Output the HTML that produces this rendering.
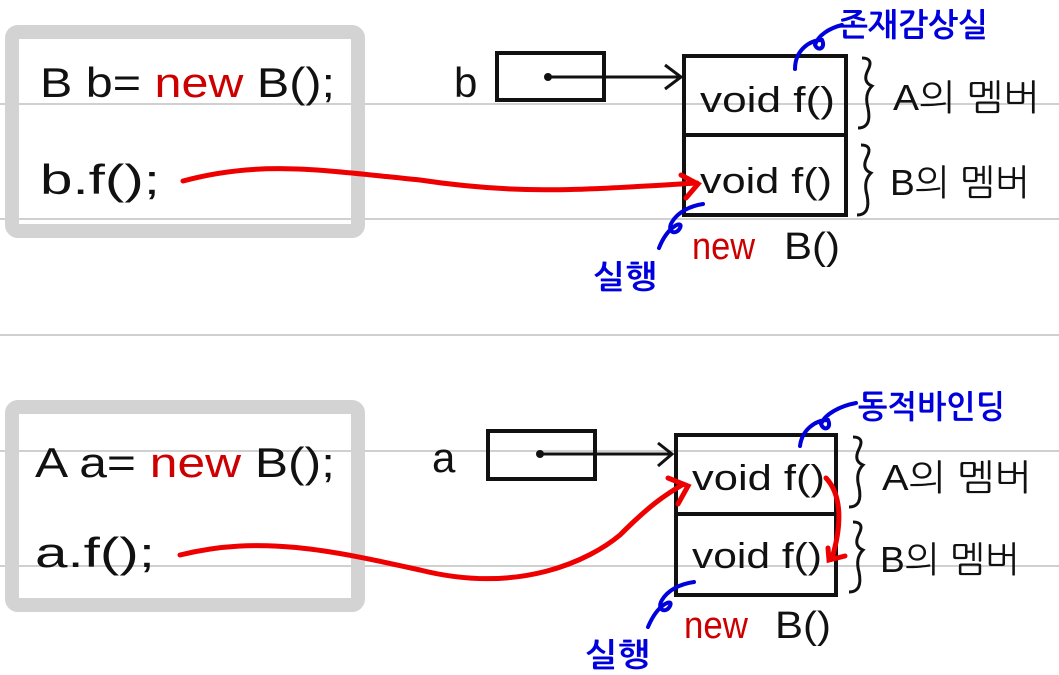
<!DOCTYPE html>
<html><head><meta charset="utf-8"><style>
html,body{margin:0;padding:0;background:#fff}
svg{display:block}
text{font-family:"Liberation Sans","NanumGothic","Noto Sans CJK KR",sans-serif}
</style></head><body>
<svg width="1059" height="675" viewBox="0 0 1059 675" xmlns="http://www.w3.org/2000/svg">
<g stroke="#d0d0d0" stroke-width="2">
<line x1="0" y1="104" x2="1059" y2="104"/><line x1="0" y1="219" x2="1059" y2="219"/>
<line x1="0" y1="335" x2="1059" y2="335"/><line x1="0" y1="451" x2="1059" y2="451"/>
<line x1="0" y1="566" x2="1059" y2="566"/>
</g>
<rect x="12" y="32" width="346" height="199" rx="6" fill="none" stroke="#d3d3d3" stroke-width="14"/>
<rect x="12" y="407" width="346" height="198" rx="6" fill="none" stroke="#d3d3d3" stroke-width="14"/>
<g font-size="42" fill="#111">
<text x="40" y="97" textLength="295" lengthAdjust="spacingAndGlyphs">B b= <tspan fill="#c00">new</tspan> B();</text>
<text x="40" y="194" textLength="120" lengthAdjust="spacingAndGlyphs">b.f();</text>
<text x="454" y="97">b</text>
<text x="35" y="477" textLength="300" lengthAdjust="spacingAndGlyphs">A a= <tspan fill="#c00">new</tspan> B();</text>
<text x="35" y="567" textLength="120" lengthAdjust="spacingAndGlyphs">a.f();</text>
<text x="432" y="472">a</text>
</g>
<g fill="none" stroke="#111" stroke-width="4">
<rect x="497" y="53" width="107" height="47"/>
<rect x="684" y="56" width="162" height="159"/><line x1="684" y1="135" x2="846" y2="135"/>
<line x1="548" y1="77" x2="680" y2="77" stroke-width="3"/><path d="M665 65 L681 77 L665 89" stroke-width="3"/>
<rect x="488" y="431" width="107" height="48"/>
<rect x="676" y="435" width="160" height="160"/><line x1="676" y1="514" x2="836" y2="514"/>
<line x1="540" y1="454" x2="671" y2="454" stroke-width="3"/><path d="M658 443 L672 454 L658 466" stroke-width="3"/>
<path d="M862 58 q12 0 6 12 q-6 12 4 16 q-8 8 -4 22 q4 20 -10 20" stroke-width="3"/>
<path d="M861 145 q12 0 6 12 q-6 12 4 16 q-8 8 -4 22 q4 20 -10 20" stroke-width="3"/>
<path d="M853 437 q12 0 6 12 q-6 12 4 16 q-8 8 -4 22 q4 20 -10 20" stroke-width="3"/>
<path d="M853 522 q12 0 6 12 q-6 12 4 16 q-8 8 -4 22 q4 20 -10 20" stroke-width="3"/>
</g>
<circle cx="548" cy="77" r="4" fill="#111"/><circle cx="540" cy="454" r="4" fill="#111"/>
<g font-size="36" fill="#111">
<text x="700" y="112" textLength="135" lengthAdjust="spacingAndGlyphs">void f()</text>
<text x="700" y="193" textLength="132" lengthAdjust="spacingAndGlyphs">void f()</text>
<text x="692" y="490" textLength="133" lengthAdjust="spacingAndGlyphs">void f()</text>
<text x="692" y="568" textLength="130" lengthAdjust="spacingAndGlyphs">void f()</text>
<text x="893" y="110" textLength="147" lengthAdjust="spacingAndGlyphs">A의 멤버</text>
<text x="890" y="195" textLength="140" lengthAdjust="spacingAndGlyphs">B의 멤버</text>
<text x="882" y="490" textLength="150" lengthAdjust="spacingAndGlyphs">A의 멤버</text>
<text x="880" y="572" textLength="140" lengthAdjust="spacingAndGlyphs">B의 멤버</text>
</g>
<g font-size="38">
<text x="692" y="259" fill="#c00" textLength="63" lengthAdjust="spacingAndGlyphs">new</text><text x="784" y="259" fill="#111" textLength="56" lengthAdjust="spacingAndGlyphs">B()</text>
<text x="684" y="638" fill="#c00" textLength="64" lengthAdjust="spacingAndGlyphs">new</text><text x="775" y="638" fill="#111" textLength="56" lengthAdjust="spacingAndGlyphs">B()</text>
</g>
<g fill="none" stroke="#e00" stroke-width="5" stroke-linecap="round">
<path d="M183 181 C260 160 320 170 420 180 C520 195 580 190 697 183"/>
<path d="M681 175 L698 184 L686 198"/>
<path d="M180 555 C260 535 330 550 420 570 C520 595 590 560 620 535 C650 505 665 495 682 485"/>
<path d="M668 478 L688 486 L678 504"/>
<path d="M826 478 C842 495 842 525 832 558"/>
<path d="M828 548 L829 560 L845 556"/>
</g>
<g fill="none" stroke="#00d" stroke-width="4" stroke-linecap="round">
<path d="M795 69 C795 50 810 40 822 40 C826 48 818 52 815 45 C818 35 830 28 842 25"/>
<path d="M703 204 C690 206 678 212 672 222 C666 232 676 236 680 228 C684 220 668 225 659 248"/>
<path d="M800 446 C802 430 815 420 828 420 C832 428 824 432 821 424 C825 414 840 406 856 403"/>
<path d="M694 582 C680 584 668 590 662 600 C656 610 666 614 670 606 C674 598 658 603 648 627"/>
</g>
<g font-size="32" font-weight="bold" fill="#00d">
<text x="838" y="36" textLength="150" lengthAdjust="spacingAndGlyphs">존재감상실</text>
<text x="593" y="288" textLength="64" lengthAdjust="spacingAndGlyphs">실행</text>
<text x="858" y="418" textLength="147" lengthAdjust="spacingAndGlyphs">동적바인딩</text>
<text x="585" y="666" textLength="65" lengthAdjust="spacingAndGlyphs">실행</text>
</g>
</svg>
</body></html>
